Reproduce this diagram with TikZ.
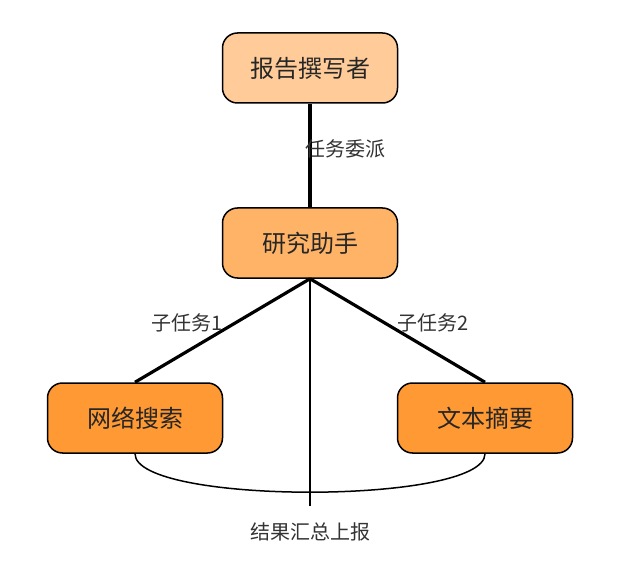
\documentclass[tikz,border=0pt]{standalone}
\usepackage{fontspec}
\setmainfont{Noto Sans CJK SC}
\definecolor{roleA}{HTML}{FFCC99}
\definecolor{roleB}{HTML}{FFB366}
\definecolor{roleC}{HTML}{FF9933}
\tikzset{
    agent/.style={draw=black, line width=1.5pt, rounded corners=15pt, minimum width=175pt, minimum height=70pt, font=\fontsize{24}{27}\selectfont, text=black!85},
    tag/.style={font=\fontsize{20}{23}\selectfont, text=black!80}
}

\begin{document}
\begin{tikzpicture}[x=1pt, y=-1pt]
    \useasboundingbox (0,0) rectangle (639,585);
    % Agents
    \node[agent, fill=roleA] (writer) at (310,68) {报告撰写者};
    \node[agent, fill=roleB] (assistant) at (310,243) {研究助手};
    \node[agent, fill=roleC] (search) at (135,418) {网络搜索};
    \node[agent, fill=roleC] (summary) at (485,418) {文本摘要};
    \coordinate (bottom) at (310,506);

    % Delegation
    \draw[line width=3.2pt] (writer.south) -- (assistant.north);
    \node[tag] (delegate) at (345,149) {任务委派};
    \draw[line width=3.2pt] (assistant.south) -- (search.north);
    \draw[line width=3.2pt] (assistant.south) -- (summary.north);
    \node[tag] (sub1) at (187,323) {子任务1};
    \node[tag] (sub2) at (433,323) {子任务2};

    % Results
    \draw[line width=2pt] (assistant.south) -- (bottom);
    \draw[line width=1.5pt] (search.south) .. controls (135,505) and (485,505) .. (summary.south);
    \node[tag] (report) at (310,532) {结果汇总上报};
\end{tikzpicture}
\end{document}
